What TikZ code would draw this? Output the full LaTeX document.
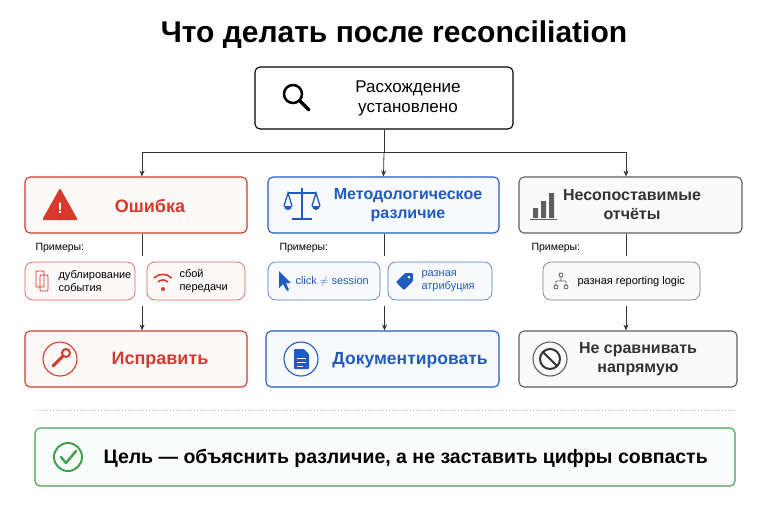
\documentclass[tikz,border=0pt]{standalone}
\usepackage{fontspec}
\setmainfont{Liberation Sans}
\usetikzlibrary{arrows.meta}
\definecolor{errred}{HTML}{D63A2C}
\definecolor{metblue}{HTML}{1F5BC0}
\definecolor{cmpgray}{HTML}{5E5E5E}
\definecolor{okgreen}{HTML}{3FA34D}
\tikzset{
  box/.style={draw=#1, fill=#1!3, rounded corners=5pt, line width=1.1pt, minimum height=56pt, align=center},
  chip/.style={draw=#1!80, fill=#1!3, rounded corners=8pt, line width=0.7pt, minimum height=38pt, align=left},
  conn/.style={line width=0.8pt, draw=black!80},
  arr/.style={conn, -{Stealth[length=6pt,width=5pt]}},
  chiptxt/.style={anchor=west, font=\fontsize{11}{12.5}\selectfont, align=left},
}
\begin{document}
\begin{tikzpicture}[x=1pt,y=-1pt]
	\useasboundingbox (0,0) rectangle (768,512);
	\node[font=\fontsize{30}{34}\selectfont\bfseries] (title) at (394,35) {Что делать после reconciliation};

	% top box
	\node[box=black, fill=white, minimum width=258pt, minimum height=62pt] (top) at (384,98) {};
	\node[font=\fontsize{17}{20}\selectfont, align=center] (toptxt) at (408,98) {Расхождение\\установлено};
	\draw[line width=2.5pt] (293,94) circle (9pt);
	\draw[line width=3.5pt, line cap=round] (300,101) -- (309,110);

	% category boxes
	\node[box=errred, minimum width=222pt] (err) at (136,205) {};
	\node[box=metblue, minimum width=231pt] (met) at (383.5,205) {};
	\node[box=cmpgray, minimum width=223pt] (cmp) at (630.5,205) {};
	\node[text=errred, font=\fontsize{18}{21}\selectfont\bfseries] at (150,206) {Ошибка};
	\node[text=metblue, font=\fontsize{16}{19}\selectfont\bfseries, align=center] at (408,205) {Методологическое\\различие};
	\node[text=black!80, font=\fontsize{16}{19}\selectfont\bfseries, align=center] at (632,205) {Несопоставимые\\отчёты};

	\coordinate (split) at (384,152);
	\coordinate (errin) at ([xshift=6pt]err.north);
	\coordinate (cmpin) at ([xshift=-4.5pt]cmp.north);
	\draw[conn] (top.south) -- (split);
	\draw[arr] (split) -| (errin);
	\draw[arr] (split) -- (met.north);
	\draw[arr] (split) -| (cmpin);

	% category icons
	\fill[errred, rounded corners=2pt] (42,220) -- (60,188) -- (78,220) -- cycle;
	\node[text=white, font=\bfseries\fontsize{15}{15}\selectfont] at (60,208) {!};
	\begin{scope}[metblue, line width=1.3pt]
		\draw (302,188) -- (302,219) (292,219) -- (312,219) (288,193) -- (316,193);
		\draw (284,206) -- (288,193) -- (292,206) (312,206) -- (316,193) -- (320,206);
		\fill (284,206) arc (180:360:4pt) -- cycle;
		\fill (312,206) arc (180:360:4pt) -- cycle;
	\end{scope}
	\fill[cmpgray] (533,208) rectangle (538,218) (541,201) rectangle (546,218) (549,193) rectangle (554,218);
	\draw[cmpgray, line width=1pt] (530,219) -- (557,219);

	% examples
	\foreach \xx/\nm in {32/ex1, 276/ex2, 528/ex3}
		\node[anchor=west, font=\fontsize{10.5}{12}\selectfont] (\nm) at (\xx,248) {Примеры:};
	\node[chip=errred, minimum width=110pt] (dup) at (80,281) {};
	\node[chip=errred, minimum width=98pt] (loss) at (196,281) {};
	\node[chip=metblue, minimum width=112pt] (clk) at (324,281) {};
	\node[chip=metblue, minimum width=104pt] (attr) at (440,281) {};
	\node[chip=cmpgray, minimum width=157pt] (rep) at (621.5,281) {};
	\node[chiptxt] at (55,281) {дублирование\\события};
	\node[chiptxt] at (176,281) {сбой\\передачи};
	\node[chiptxt, text=metblue] at (292,282) {click $\neq$ session};
	\node[chiptxt, text=metblue] at (418,281) {разная\\атрибуция};
	\node[chiptxt] at (574,282) {разная reporting logic};

	% chip icons
	\draw[errred, line width=0.9pt, rounded corners=1pt] (36,271) rectangle (44,287) (40,275) rectangle (48,291);
	\fill[errred] (163,289) circle (2pt);
	\draw[errred, line width=1.6pt] (158,282) arc (135:45:7pt) (154,278) arc (135:45:12.5pt);
	\fill[metblue] (279,271) -- (279,288) -- (283,284) -- (287,291) -- (289,290) -- (286,283) -- (291,283) -- cycle;
	\fill[metblue, rounded corners=1pt] (396,282) -- (405,273) -- (413,273) -- (413,281) -- (404,290) -- cycle;
	\fill[white] (409,277) circle (1.5pt);
	\draw[cmpgray, line width=0.8pt] (561,275) circle (2pt) (561,277) -- (561,281) (556,281) -- (566,281) (556,281) -- (556,285) (566,281) -- (566,285) (556,287) circle (2pt) (566,287) circle (2pt);

	% results
	\node[box=errred, minimum width=222pt] (fix) at (136,359) {};
	\node[box=metblue, minimum width=233pt] (doc) at (382.5,359) {};
	\node[box=cmpgray, minimum width=218pt] (nocmp) at (628,359) {};
	\node[text=errred, font=\fontsize{18}{21}\selectfont\bfseries] at (160,360) {Исправить};
	\node[text=metblue, font=\fontsize{17.5}{21}\selectfont\bfseries] at (410,360) {Документировать};
	\node[text=black!80, font=\fontsize{16}{19}\selectfont\bfseries, align=center] at (638,359) {Не сравнивать\\напрямую};

	\foreach \a/\b/\dx in {err/fix/6, met/doc/1, cmp/nocmp/-4.5} {
		\coordinate (\a lo) at ([xshift=\dx pt, yshift=-22pt]\a.south);
		\coordinate (\a hi) at ([xshift=\dx pt, yshift=-72pt]\a.south);
		\coordinate (\b in) at ([xshift=\dx pt]\a.south |- \b.north);
		\draw[conn] (\a.south -| \a lo) -- (\a lo);
		\draw[arr] (\a hi) -- (\b in);
	}

	% result icons
	\draw[errred, line width=1.1pt] (60,359) circle (17pt);
	\draw[errred, line width=3pt, line cap=round] (53,366) -- (63,356);
	\draw[errred, line width=2pt] (66,353) circle (4pt);
	\draw[metblue, line width=1.1pt] (301,359) circle (17pt);
	\fill[metblue, rounded corners=1pt] (294,349) -- (304,349) -- (309,354) -- (309,369) -- (294,369) -- cycle;
	\draw[white, line width=0.9pt] (297,358) -- (306,358) (297,362) -- (306,362) (297,366) -- (303,366);
	\draw[cmpgray, line width=1.1pt] (550,359) circle (17pt);
	\draw[black!80, line width=2pt] (550,359) circle (10pt) (543,352) -- (557,366);

	% separator and goal
	\draw[black!30, dotted, line width=1pt] (35,410) -- (735,410);
	\node[box=okgreen, minimum width=700pt, minimum height=58pt] (goal) at (385,457) {};
	\draw[okgreen, line width=2pt] (68,457) circle (14pt);
	\draw[okgreen, line width=2.5pt, line cap=round, line join=round] (61,457) -- (66,463) -- (76,451);
	\node[anchor=west, font=\fontsize{19.5}{22}\selectfont\bfseries] at (100,458) {Цель — объяснить различие, а не заставить цифры совпасть};
\end{tikzpicture}
\end{document}
